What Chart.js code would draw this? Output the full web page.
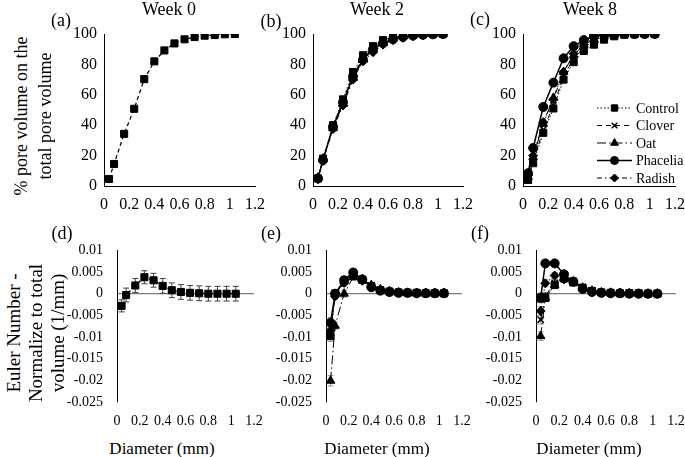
<!DOCTYPE html>
<html>
<head>
<meta charset="utf-8">
<script src="https://cdn.jsdelivr.net/npm/chart.js@4.4.0/dist/chart.umd.min.js"></script>
<style>
  body { margin: 0; background: #fff; }
  #wrap { position: relative; width: 685px; height: 457px; overflow: hidden;
          font-family: "Liberation Serif", "DejaVu Serif", serif; color: #000; }
  canvas { position: absolute; }
  .t { position: absolute; transform: translate(-50%, -50%); white-space: nowrap; font-size: 18px; line-height: 1; font-weight: normal; }
  .r { transform: translate(-50%, -50%) rotate(-90deg); }
  .e { font-size: 19px; }
  .d { font-size: 17px; }
</style>
</head>
<body>
<div id="wrap">
  <canvas id="pa"></canvas><canvas id="pb"></canvas><canvas id="pc"></canvas>
  <canvas id="pd"></canvas><canvas id="pe"></canvas><canvas id="pf"></canvas>

  <div class="t" style="left:169px;top:9px">Week 0</div>
  <div class="t" style="left:377px;top:9px">Week 2</div>
  <div class="t" style="left:590px;top:9px">Week 8</div>

  <div class="t" style="left:61px;top:20px">(a)</div>
  <div class="t" style="left:271px;top:21px">(b)</div>
  <div class="t" style="left:480px;top:19px">(c)</div>
  <div class="t" style="left:62px;top:233px">(d)</div>
  <div class="t" style="left:271px;top:233px">(e)</div>
  <div class="t" style="left:480px;top:233px">(f)</div>

  <div class="t r" style="left:21px;top:116px">% pore volume on the</div>
  <div class="t r" style="left:45px;top:116px">total pore volume</div>

  <div class="t r e" style="left:13px;top:333px">Euler Number -</div>
  <div class="t r e" style="left:35px;top:333px">Normalize to total</div>
  <div class="t r e" style="left:57px;top:333px">volume (1/mm)</div>

  <div class="t d" style="left:162px;top:448px">Diameter (mm)</div>
  <div class="t d" style="left:377px;top:448px">Diameter (mm)</div>
  <div class="t d" style="left:589px;top:448px">Diameter (mm)</div>
</div>

<script>
// pore diameter classes (mm)
const diameters = [0.04, 0.08, 0.16, 0.24, 0.32, 0.40, 0.48, 0.56, 0.64, 0.72, 0.80, 0.88, 0.96, 1.04];
const xTicks = [0, 0.2, 0.4, 0.6, 0.8, 1, 1.2];
const poreTicks = [0, 20, 40, 60, 80, 100];
const eulerTicks = [-0.025, -0.02, -0.015, -0.01, -0.005, 0, 0.005, 0.01];
const treatments = ["Control", "Clover", "Oat", "Phacelia", "Radish"];

// cumulative % pore volume
const poreWeek0 = [4.6, 14.5, 34.3, 50.8, 70.3, 82, 89.2, 93.8, 96.5, 98, 98.9, 99.3, 99.8, 100];

const poreWeek2Control  = [5, 18, 40, 57, 75, 86, 92, 96, 98, 99, 99.5, 99.8, 100, 100];
const poreWeek2Clover   = [5, 17.5, 39, 56, 73, 84, 91, 95, 97.5, 98.8, 99.4, 99.7, 99.9, 100];
const poreWeek2Oat      = [5.5, 18, 38, 54, 71, 83, 90, 94, 97, 98.5, 99.2, 99.6, 99.9, 100];
const poreWeek2Phacelia = [5, 17, 39, 55, 72, 83, 90, 94, 96.5, 98, 99, 99.5, 99.8, 100];
const poreWeek2Radish   = [4.5, 16.5, 37.5, 53, 70, 82, 88, 93, 96, 97.5, 98.5, 99.2, 99.7, 100];

const poreWeek8Control  = [4, 15, 35, 51, 70, 81.5, 88.8, 93, 96.3, 98.5, 99.5, 99.8, 100, 100];
const poreWeek8Clover   = [5, 16, 37, 53, 72, 84, 91, 95, 97.5, 99, 99.5, 99.8, 100, 100];
const poreWeek8Oat      = [6, 19, 41, 58, 75, 86, 93, 96.5, 98.5, 99.3, 99.7, 99.9, 100, 100];
const poreWeek8Phacelia = [8.4, 25, 52, 68, 84, 92, 96, 98.7, 99.5, 99.8, 100, 100, 100, 100];
const poreWeek8Radish   = [7, 20, 42, 57, 75, 87, 93, 97, 98.8, 99.5, 99.8, 100, 100, 100];

// Euler number normalised to total volume (1/mm)
const eulerWeek0 = [-0.0028, -0.0003, 0.0019, 0.0038, 0.0031, 0.0018, 0.0008, 0.0004, 0.0002, 0.0001, 0, 0, 0, 0];
const errWeek0   = [0.0014, 0.0016, 0.0016, 0.0015, 0.0016, 0.0017, 0.0017, 0.0017, 0.0017, 0.0017, 0.0017, 0.0017, 0.0017, 0.0017];

const eulerWeek2Control  = [-0.0098, 0, 0.003, 0.0045, 0.0032, 0.0017, 0.0008, 0.0005, 0.0003, 0.0002, 0.0002, 0.0001, 0.0001, 0.0001];
const eulerWeek2Clover   = [-0.0092, -0.0002, 0.0028, 0.0046, 0.0034, 0.0018, 0.0009, 0.0005, 0.0003, 0.0002, 0.0001, 0.0001, 0.0001, 0.0001];
const eulerWeek2Oat      = [-0.0201, -0.0074, 0, 0.0038, 0.0033, 0.002, 0.001, 0.0006, 0.0003, 0.0002, 0.0001, 0.0001, 0.0001, 0.0001];
const eulerWeek2Phacelia = [-0.0067, 0, 0.0031, 0.0049, 0.0033, 0.0015, 0.0007, 0.0004, 0.0002, 0.0002, 0.0001, 0.0001, 0.0001, 0.0001];
const eulerWeek2Radish   = [-0.0085, -0.0006, 0.0025, 0.0042, 0.003, 0.0016, 0.0008, 0.0004, 0.0003, 0.0002, 0.0001, 0.0001, 0.0001, 0.0001];
const errWeek2 = [0.0012, 0.0008, 0.0008, 0.0007, 0.0006, 0.0005, 0.0004, 0.0003, 0.0003, 0.0002, 0.0002, 0.0002, 0.0002, 0.0002];

const eulerWeek8Control  = [-0.0011, -0.001, 0.002, 0.0035, 0.0026, 0.0013, 0.0006, 0.0003, 0.0002, 0.0001, 0.0001, 0.0001, 0, 0];
const eulerWeek8Clover   = [-0.006, -0.0005, 0.0025, 0.0038, 0.003, 0.0016, 0.0008, 0.0004, 0.0002, 0.0001, 0.0001, 0.0001, 0, 0];
const eulerWeek8Oat      = [-0.0098, -0.0009, 0.002, 0.0035, 0.0028, 0.0014, 0.0007, 0.0003, 0.0002, 0.0001, 0.0001, 0, 0, 0];
const eulerWeek8Phacelia = [-0.0009, 0.007, 0.007, 0.0045, 0.0028, 0.0011, 0.0004, 0.0002, 0.0001, 0.0001, 0, 0, 0, 0];
const eulerWeek8Radish   = [-0.004, 0.0024, 0.0042, 0.0033, 0.0027, 0.0013, 0.0006, 0.0003, 0.0002, 0.0001, 0.0001, 0, 0, 0];
const errWeek8 = [0.001, 0.0008, 0.0007, 0.0006, 0.0005, 0.0004, 0.0003, 0.0003, 0.0002, 0.0002, 0.0002, 0.0002, 0.0002, 0.0002];

const FONT = "'Liberation Serif', 'DejaVu Serif', serif";

// marker / line look per series
const looks = {
  Week0:    { pointStyle: "rect",     radius: 5,   dash: [4, 3],           width: 1.25 },
  Control:  { pointStyle: "rect",     radius: 5,   dash: [1.5, 2],         width: 1 },
  Clover:   { pointStyle: "crossRot", radius: 4.5, dash: [5, 4],           width: 1 },
  Oat:      { pointStyle: "triangle", radius: 5,   dash: [9, 3, 1.5, 3],   width: 1 },
  Phacelia: { pointStyle: "circle",   radius: 4.5, dash: [],               width: 1.5 },
  Radish:   { pointStyle: "rectRot",  radius: 4.5, dash: [5, 3, 1.5, 3],   width: 1 }
};

function series(name, look, values, errors, order) {
  return {
    label: name,
    data: diameters.map((d, i) => ({ x: d, y: values[i] })),
    errors: errors,
    order: order || 0,
    borderColor: "#000",
    backgroundColor: "#000",
    borderWidth: look.width,
    borderDash: look.dash,
    pointStyle: look.pointStyle,
    pointRadius: look.radius,
    pointBorderWidth: look.pointStyle === "crossRot" ? 1.5 : 1,
    pointBorderColor: "#000",
    pointBackgroundColor: "#000",
    tension: 0,
    fill: false
  };
}

const fmt = v => String(+Number(v).toFixed(3));

// vertical error bars drawn under the markers
const errorBars = {
  id: "errorBars",
  beforeDatasetsDraw(chart) {
    const ctx = chart.ctx;
    const y = chart.scales.y;
    chart.data.datasets.forEach((ds, i) => {
      if (!ds.errors) return;
      const meta = chart.getDatasetMeta(i);
      ctx.save();
      ctx.strokeStyle = ds.errorColor || "#404040";
      ctx.lineWidth = 1;
      meta.data.forEach((pt, j) => {
        const v = ds.data[j].y, e = ds.errors[j];
        const y1 = y.getPixelForValue(v + e), y2 = y.getPixelForValue(v - e);
        ctx.beginPath();
        ctx.moveTo(pt.x, y1); ctx.lineTo(pt.x, y2);
        ctx.moveTo(pt.x - 3, y1); ctx.lineTo(pt.x + 3, y1);
        ctx.moveTo(pt.x - 3, y2); ctx.lineTo(pt.x + 3, y2);
        ctx.stroke();
      });
      ctx.restore();
    });
  }
};

// legend with line sample + marker, inside the plot of panel (c)
const keyLegend = {
  id: "keyLegend",
  afterDatasetsDraw(chart) {
    const { ctx, chartArea } = chart;
    const x0 = chartArea.right - 78, x1 = x0 + 35, xm = (x0 + x1) / 2;
    chart.data.datasets.forEach((ds, i) => {
      const yy = chartArea.bottom - 78 + i * 17.5;
      ctx.save();
      ctx.strokeStyle = "#000";
      ctx.fillStyle = "#000";
      ctx.lineWidth = ds.borderWidth;
      ctx.setLineDash(ds.borderDash);
      ctx.beginPath(); ctx.moveTo(x0, yy); ctx.lineTo(x1, yy); ctx.stroke();
      ctx.setLineDash([]);
      ctx.lineWidth = ds.pointBorderWidth;
      Chart.helpers.drawPoint(ctx, { pointStyle: ds.pointStyle, radius: ds.pointRadius - 0.5, borderWidth: 1, rotation: 0 }, xm, yy);
      ctx.font = "14px " + FONT;
      ctx.textBaseline = "middle";
      ctx.fillText(ds.label, x1 + 4, yy + 1);
      ctx.restore();
    });
  }
};

function panel(id, area, datasets, euler, plugins) {
  const cv = document.getElementById(id);
  const left = area.L - 55, top = area.T - 20;
  const width = area.R + 22 - left, height = area.B + 34 - top;
  cv.width = width; cv.height = height;
  cv.style.left = left + "px"; cv.style.top = top + "px";
  const yTicks = euler ? eulerTicks : poreTicks;
  new Chart(cv, {
    type: "line",
    data: { datasets: datasets },
    plugins: plugins || [],
    options: {
      responsive: false,
      animation: false,
      events: [],
      layout: { padding: { left: 0, top: 20, right: 22, bottom: 0 } },
      plugins: { legend: { display: false }, tooltip: { enabled: false } },
      scales: {
        x: {
          type: "linear", min: 0, max: 1.2,
          afterBuildTicks: s => { s.ticks = xTicks.map(v => ({ value: v })); },
          afterFit: s => { s.height = 34; },
          grid: { display: false, drawTicks: false },
          border: { display: !euler, color: "#000", width: 1 },
          ticks: { autoSkip: false, maxRotation: 0, padding: euler ? 11 : 9, color: "#000",
                   font: { family: FONT, size: euler ? 14 : 16 }, callback: v => fmt(v) }
        },
        y: {
          min: yTicks[0], max: yTicks[yTicks.length - 1],
          afterBuildTicks: s => { s.ticks = yTicks.map(v => ({ value: v })); },
          afterFit: s => { s.width = 55; },
          grid: euler
            ? { display: true, drawTicks: false, lineWidth: 1.25,
                color: c => (c.tick && c.tick.value === 0 ? "#7a7a7a" : "rgba(0,0,0,0)") }
            : { display: false, drawTicks: false },
          border: { display: true, color: "#000", width: 1 },
          ticks: { padding: euler ? 14 : 7, color: "#000",
                   font: { family: FONT, size: euler ? 14 : 16 }, callback: v => fmt(v) }
        }
      }
    }
  });
}

const wk2Pore = [poreWeek2Control, poreWeek2Clover, poreWeek2Oat, poreWeek2Phacelia, poreWeek2Radish];
const wk8Pore = [poreWeek8Control, poreWeek8Clover, poreWeek8Oat, poreWeek8Phacelia, poreWeek8Radish];
const wk2Euler = [eulerWeek2Control, eulerWeek2Clover, eulerWeek2Oat, eulerWeek2Phacelia, eulerWeek2Radish];
const wk8Euler = [eulerWeek8Control, eulerWeek8Clover, eulerWeek8Oat, eulerWeek8Phacelia, eulerWeek8Radish];

function group(valuesList, errors) {
  return treatments.map((t, i) => {
    const ds = series(t, looks[t], valuesList[i], errors, 4 - i);
    ds.errorColor = "#9a9a9a";
    return ds;
  });
}

panel("pa", { L: 104, R: 255, T: 34, B: 186 }, [series("Week 0", looks.Week0, poreWeek0)], false);
panel("pb", { L: 313, R: 463, T: 34, B: 186 }, group(wk2Pore), false);
panel("pc", { L: 523, R: 675, T: 34, B: 186 }, group(wk8Pore), false, [keyLegend]);

const d0 = series("Week 0", looks.Week0, eulerWeek0, errWeek0);
d0.errorColor = "#404040";
panel("pd", { L: 117, R: 254, T: 248, B: 402 }, [d0], true, [errorBars]);
panel("pe", { L: 326, R: 462, T: 248, B: 402 }, group(wk2Euler, errWeek2), true, [errorBars]);
panel("pf", { L: 536, R: 676, T: 248, B: 402 }, group(wk8Euler, errWeek8), true, [errorBars]);
</script>
</body>
</html>
